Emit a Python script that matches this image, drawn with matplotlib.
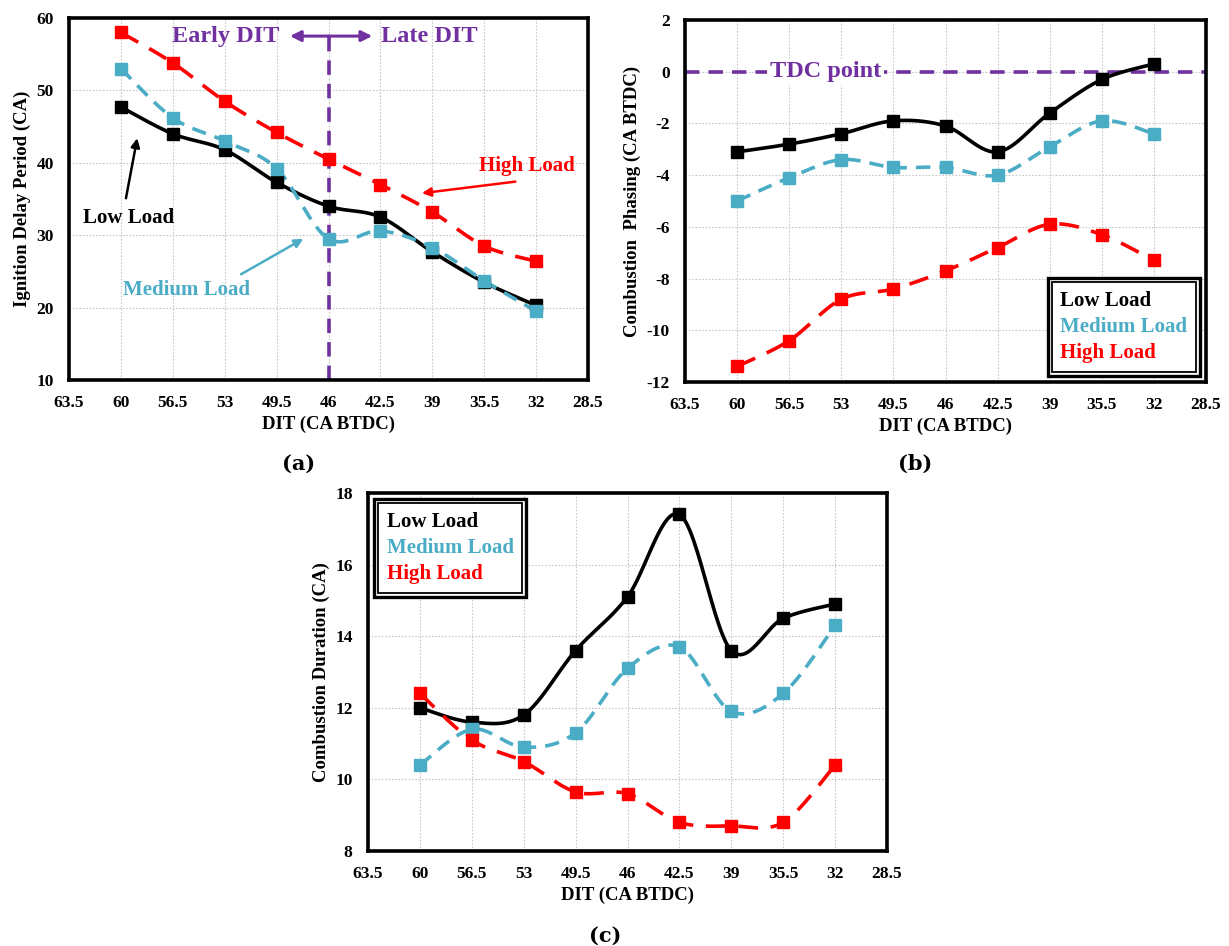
import numpy as np
import matplotlib
matplotlib.use("Agg")
import matplotlib.pyplot as plt
from matplotlib.lines import Line2D
from matplotlib.patches import Rectangle

plt.rcParams['font.family'] = ['Liberation Serif', 'DejaVu Serif']
plt.rcParams['font.weight'] = 'bold'
plt.rcParams['axes.unicode_minus'] = False

# ---------------- data ----------------
dit = [60, 56.5, 53, 49.5, 46, 42.5, 39, 35.5, 32]
xticks = [63.5, 60, 56.5, 53, 49.5, 46, 42.5, 39, 35.5, 32, 28.5]
series_names = ["Low Load", "Medium Load", "High Load"]

ign_low = [47.7, 44.0, 41.8, 37.3, 34.0, 32.5, 27.7, 23.5, 20.3]
ign_med = [53.0, 46.2, 43.0, 39.2, 29.5, 30.6, 28.3, 23.7, 19.5]
ign_high = [58.0, 53.8, 48.5, 44.2, 40.5, 37.0, 33.2, 28.5, 26.4]

ph_low = [-3.1, -2.8, -2.4, -1.9, -2.1, -3.1, -1.6, -0.3, 0.3]
ph_med = [-5.0, -4.1, -3.4, -3.7, -3.7, -4.0, -2.9, -1.9, -2.4]
ph_high = [-11.4, -10.4, -8.8, -8.4, -7.7, -6.8, -5.9, -6.3, -7.3]

dur_low = [12.0, 11.6, 11.8, 13.6, 15.1, 17.4, 13.6, 14.5, 14.9]
dur_med = [10.4, 11.4, 10.9, 11.3, 13.1, 13.7, 11.9, 12.4, 14.3]
dur_high = [12.4, 11.1, 10.5, 9.65, 9.6, 8.8, 8.7, 8.8, 10.4]

BLACK = "#000000"
TEAL = "#4BACC6"
RED = "#FF0000"
PURPLE = "#7030A0"
colors = [BLACK, TEAL, RED]
dash_styles = [None, (4, 2.5), (5.5, 3.5)]


def smooth(x, y, n=30):
    """Excel-like smoothed line (Catmull-Rom Bezier) through the data points."""
    x = np.asarray(x, float); y = np.asarray(y, float)
    P = np.column_stack([x, y])
    out = []
    for i in range(len(P) - 1):
        p0 = P[i - 1] if i > 0 else P[i]
        p1 = P[i]; p2 = P[i + 1]
        p3 = P[i + 2] if i + 2 < len(P) else P[i + 1]
        c1 = p1 + (p2 - p0) / 6.0
        c2 = p2 - (p3 - p1) / 6.0
        t = np.linspace(0, 1, n)[:, None]
        seg = ((1 - t) ** 3) * p1 + 3 * ((1 - t) ** 2) * t * c1 + 3 * (1 - t) * t ** 2 * c2 + t ** 3 * p2
        out.append(seg if i == 0 else seg[1:])
    s = np.vstack(out)
    return s[:, 0], s[:, 1]


def draw_series(ax, ys):
    for y, c, d in zip(ys, colors, dash_styles):
        sx, sy = smooth(dit, y)
        if d is None:
            ax.plot(sx, sy, color=c, lw=2.6, zorder=3)
        else:
            ax.plot(sx, sy, color=c, lw=2.6, dashes=d, zorder=3)
        ax.plot(dit, y, ls='none', marker='s', ms=8.5, color=c, zorder=4)


def style_axes(ax, ylim, yticks, ylabel):
    ax.set_xlim(63.5, 28.5)
    ax.set_xticks(xticks)
    ax.set_xticklabels([f"{v:g}" for v in xticks])
    ax.set_ylim(*ylim)
    ax.set_yticks(yticks)
    ax.grid(True, color='#c8c8c8', ls=(0, (1.5, 1.5)), lw=0.8)
    ax.set_axisbelow(True)
    ax.tick_params(axis='x', length=0, labelsize=12.5, pad=11)
    ax.tick_params(axis='y', length=0, labelsize=12.5, pad=11)
    for lab in ax.get_xticklabels() + ax.get_yticklabels():
        lab.set_fontweight('bold')
    for sp in ax.spines.values():
        sp.set_linewidth(2.6)
        sp.set_color('black')
    ax.set_ylabel(ylabel, fontsize=13.5, fontweight='bold', labelpad=4)
    ax.set_xlabel("DIT (CA BTDC)", fontsize=13.5, fontweight='bold', labelpad=3)


def text_legend(ax, loc):
    handles = [Line2D([], [], ls='none', marker=None) for _ in series_names]
    leg = ax.legend(handles, series_names, loc=loc, handlelength=0, handletextpad=0,
                    fancybox=False, framealpha=1, edgecolor='black',
                    prop=dict(family='Liberation Serif', weight='bold', size=15),
                    borderpad=0.6, labelspacing=0.3, borderaxespad=0.3)
    leg.get_frame().set_linewidth(2.4)
    leg.set_zorder(6)
    for t, c in zip(leg.get_texts(), colors):
        t.set_color(c)
        t.set_ha('center')
    return leg


fig = plt.figure(figsize=(12.29, 9.46), dpi=100)

# ---------------- (a) ----------------
ax1 = fig.add_axes([69 / 1229, 1 - 380 / 946, 519 / 1229, 362 / 946])
style_axes(ax1, (10, 60), [10, 20, 30, 40, 50, 60], "Ignition Delay Period (CA)")
draw_series(ax1, [ign_low, ign_med, ign_high])
ax1.plot([46, 46], [10, 57.5], color=PURPLE, lw=2.6, dashes=(4, 2.5), zorder=2)
ax1.annotate("", xy=(48.6, 57.5), xytext=(46, 57.5),
             arrowprops=dict(arrowstyle='-|>', color=PURPLE, lw=2.2, mutation_scale=16, shrinkA=0, shrinkB=0))
ax1.annotate("", xy=(43.05, 57.5), xytext=(46, 57.5),
             arrowprops=dict(arrowstyle='-|>', color=PURPLE, lw=2.2, mutation_scale=16, shrinkA=0, shrinkB=0))
ax1.text(52.9, 57.5, "Early DIT", color=PURPLE, fontsize=17.5, fontweight='bold', ha='center', va='center')
ax1.text(39.2, 57.5, "Late DIT", color=PURPLE, fontsize=17.5, fontweight='bold', ha='center', va='center')
ax1.text(32.65, 39.55, "High Load", color=RED, fontsize=15, fontweight='bold', ha='center', va='center')
ax1.annotate("", xy=(39.7, 35.8), xytext=(33.4, 37.4),
             arrowprops=dict(arrowstyle='-|>', color=RED, lw=1.8, mutation_scale=13, shrinkA=0, shrinkB=0))
ax1.text(59.5, 32.4, "Low Load", color=BLACK, fontsize=15, fontweight='bold', ha='center', va='center')
ax1.annotate("", xy=(58.9, 43.4), xytext=(59.66, 35.1),
             arrowprops=dict(arrowstyle='-|>', color=BLACK, lw=1.8, mutation_scale=13, shrinkA=0, shrinkB=0))
ax1.text(55.6, 22.4, "Medium Load", color=TEAL, fontsize=15, fontweight='bold', ha='center', va='center')
ax1.annotate("", xy=(47.7, 29.5), xytext=(51.9, 24.6),
             arrowprops=dict(arrowstyle='-|>', color=TEAL, lw=1.8, mutation_scale=13, shrinkA=0, shrinkB=0))

# ---------------- (b) ----------------
ax2 = fig.add_axes([685 / 1229, 1 - 382 / 946, 521 / 1229, 362 / 946])
style_axes(ax2, (-12, 2), [-12, -10, -8, -6, -4, -2, 0, 2], "Combustion  Phasing (CA BTDC)")
ax2.axhline(0, color=PURPLE, lw=2.6, dashes=(4, 2.5), zorder=2)
ax2.text(54.06, 0, "TDC point", color=PURPLE, fontsize=17.5, fontweight='bold', ha='center', va='center',
         bbox=dict(facecolor='white', edgecolor='none', pad=2), zorder=2.5)
draw_series(ax2, [ph_low, ph_med, ph_high])
leg2 = text_legend(ax2, 'lower right')

# ---------------- (c) ----------------
ax3 = fig.add_axes([368 / 1229, 1 - 851 / 946, 519 / 1229, 358 / 946])
style_axes(ax3, (8, 18), [8, 10, 12, 14, 16, 18], "Combustion Duration (CA)")
draw_series(ax3, [dur_low, dur_med, dur_high])
leg3 = text_legend(ax3, 'upper left')

# inner line of the double legend frames
fig.canvas.draw()
inv = fig.transFigure.inverted()
for leg in (leg2, leg3):
    bb = leg.get_frame().get_window_extent()
    inset = 4.0
    (x0, y0), (x1, y1) = inv.transform([(bb.x0 + inset, bb.y0 + inset), (bb.x1 - inset, bb.y1 - inset)])
    fig.add_artist(Rectangle((x0, y0), x1 - x0, y1 - y0, transform=fig.transFigure,
                             fill=False, edgecolor='black', lw=1.3, zorder=10))

# panel letters
fig.text(299 / 1229, 1 - 464 / 946, "(a)", fontsize=15, fontweight='bold', family='DejaVu Serif', ha='center', va='center')
fig.text(915 / 1229, 1 - 464 / 946, "(b)", fontsize=15, fontweight='bold', family='DejaVu Serif', ha='center', va='center')
fig.text(605 / 1229, 1 - 936 / 946, "(c)", fontsize=15, fontweight='bold', family='DejaVu Serif', ha='center', va='center')

fig.savefig("out.png", dpi=100)
